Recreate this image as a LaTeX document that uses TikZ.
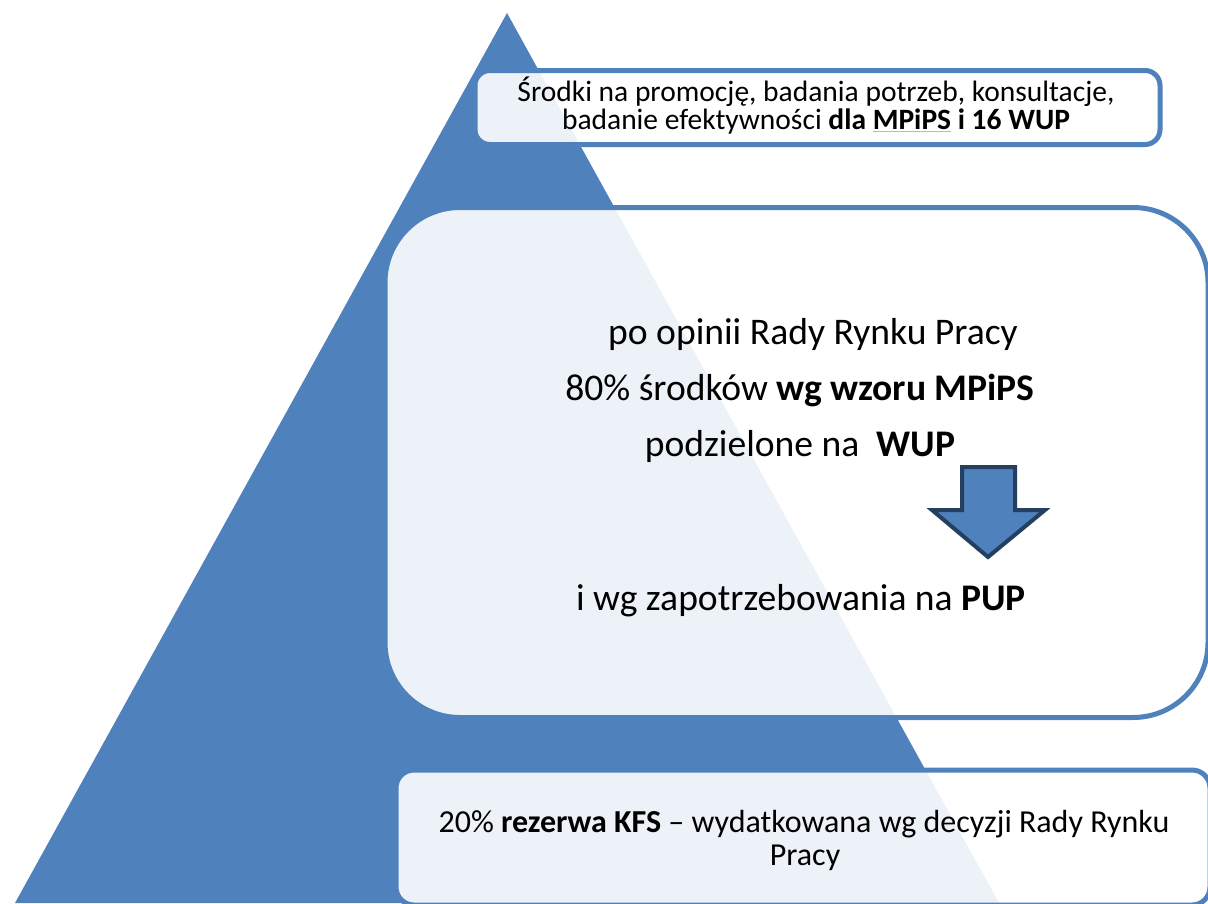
\documentclass[tikz,border=0pt]{standalone}
\usepackage{fontspec}
\setmainfont{Carlito}
\definecolor{pyr}{HTML}{4F81BD}
\definecolor{arrdark}{HTML}{243F60}
\definecolor{squig}{HTML}{F2A0A0}
\newcommand\spellmark[1]{\setbox0\hbox{#1}\rlap{\textcolor{squig}{\rule[-3pt]{\wd0}{0.7pt}}}\box0\relax}
\tikzset{
  levelbox/.style={draw=pyr, line width=5pt, fill=white, fill opacity=0.9, draw opacity=1, rectangle, inner sep=0pt},
  smalltxt/.style={anchor=base, inner sep=0pt, font=\fontsize{29.5}{29.5}\selectfont},
  bigtxt/.style={anchor=base, inner sep=0pt, font=\fontsize{37.6}{37.6}\selectfont},
  midtxt/.style={anchor=base, inner sep=0pt, font=\fontsize{32}{32}\selectfont},
  blockarrow/.style={fill=pyr, draw=arrdark, line width=4pt, line join=miter}
}
\begin{document}
\begin{tikzpicture}[x=1pt,y=-1pt]
\useasboundingbox (0,0) rectangle (1208,903);
\fill[white] (0,0) rectangle (1208,903);
% pyramid
\coordinate (apex) at (507,13);
\coordinate (bl) at (15,903);
\coordinate (br) at (999,903);
\fill[pyr] (apex) -- (bl) -- (br) -- cycle;
% boxes
\node[levelbox, rounded corners=15pt, minimum width=685pt, minimum height=74pt] (b1) at (817.5,107.5) {};
\node[levelbox, rounded corners=75pt, minimum width=823pt, minimum height=510pt] (b2) at (796.5,462.5) {};
\node[levelbox, rounded corners=18pt, minimum width=814pt, minimum height=135pt] (b3) at (803,837.5) {};
% arrow
\draw[blockarrow] (962,467) -- (1015,467) -- (1015,510) -- (1045,510) -- (988,557) -- (932,510) -- (962,510) -- cycle;
% texts
\node[smalltxt] (t1a) at (816,101) {Środki na promocję, badania potrzeb, konsultacje,};
\node[smalltxt] (t1b) at (816,129) {badanie efektywności \textbf{dla \spellmark{MPiPS} i 16 WUP}};
\node[bigtxt] (t2a) at (813,344) {po opinii Rady Rynku Pracy};
\node[bigtxt] (t2b) at (800,400) {80\% środków \textbf{wg wzoru MPiPS}};
\node[bigtxt] (t2c) at (800,456) {podzielone na\ \ \textbf{WUP}};
\node[bigtxt] (t2d) at (801,610) {i wg zapotrzebowania na \textbf{PUP}};
\node[midtxt] (t3a) at (804,832) {20\% \textbf{rezerwa KFS} -- wydatkowana wg decyzji Rady Rynku};
\node[midtxt] (t3b) at (805,865) {Pracy};
\end{tikzpicture}
\end{document}
